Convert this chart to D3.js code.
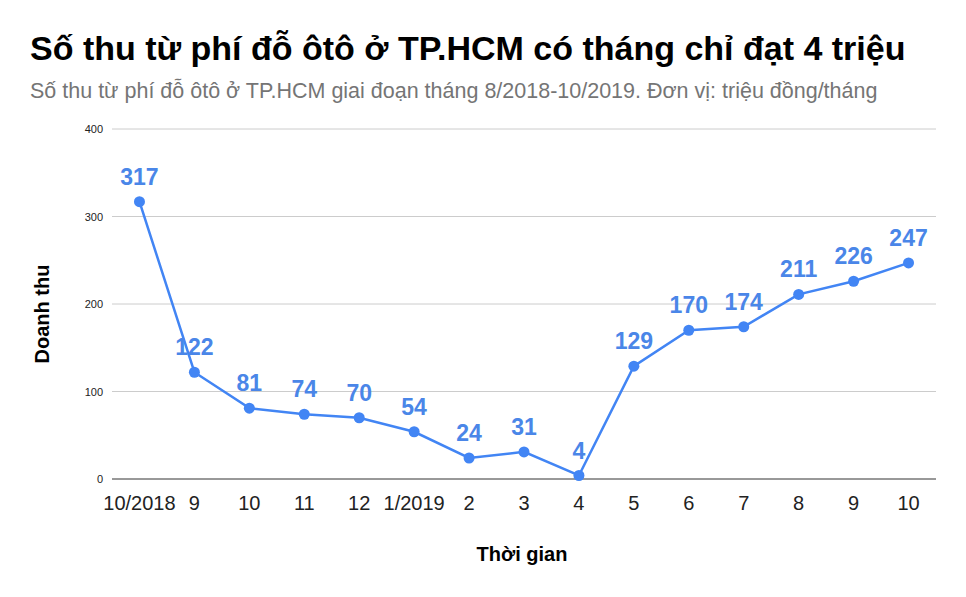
<!DOCTYPE html>
<html><head><meta charset="utf-8">
<script src="https://cdn.jsdelivr.net/npm/d3@7"></script>
<style>body{margin:0;background:#fff}text{font-family:"Liberation Sans",Arial,sans-serif}</style>
</head><body><svg id="c" width="966" height="597"></svg>
<script>
const categories = ["10/2018","9","10","11","12","1/2019","2","3","4","5","6","7","8","9","10"];
const values = [317,122,81,74,70,54,24,31,4,129,170,174,211,226,247];
const yTicks = [0,100,200,300,400];

const svg = d3.select("#c");
svg.append("rect").attr("width",966).attr("height",597).attr("fill","#fff");
const x = d3.scalePoint().domain(d3.range(categories.length)).range([112,936]).padding(0.5);
const y = d3.scaleLinear().domain([0,400]).range([479,129]);

svg.append("text").attr("x",30).attr("y",60).attr("font-size",34).attr("font-weight","bold").attr("fill","#000")
  .text("Số thu từ phí đỗ ôtô ở TP.HCM có tháng chỉ đạt 4 triệu");
svg.append("text").attr("x",30).attr("y",98).attr("font-size",21.5).attr("fill","#757575")
  .text("Số thu từ phí đỗ ôtô ở TP.HCM giai đoạn tháng 8/2018-10/2019. Đơn vị: triệu đồng/tháng");

svg.append("g").selectAll("line").data(yTicks).join("line")
  .attr("x1",112).attr("x2",936).attr("y1",d=>y(d)).attr("y2",d=>y(d))
  .attr("stroke",d=>d===0?"#333":"#ccc").attr("stroke-width",1);
svg.append("g").selectAll("text").data(yTicks).join("text")
  .attr("x",103).attr("y",d=>y(d)+4).attr("text-anchor","end").attr("font-size",11).attr("fill","#222").text(d=>d);
svg.append("g").selectAll("text").data(categories).join("text")
  .attr("x",(d,i)=>x(i)).attr("y",510).attr("text-anchor","middle").attr("font-size",20).attr("fill","#222").text(d=>d);

svg.append("text").attr("transform","translate(49,314) rotate(-90)").attr("text-anchor","middle")
  .attr("font-size",20).attr("font-weight","bold").text("Doanh thu");
svg.append("text").attr("x",522).attr("y",561).attr("text-anchor","middle")
  .attr("font-size",20).attr("font-weight","bold").text("Thời gian");

const line = d3.line().x((d,i)=>x(i)).y(d=>y(d));
svg.append("path").datum(values).attr("d",line).attr("fill","none").attr("stroke","#4285f4").attr("stroke-width",2.5);
svg.append("g").selectAll("circle").data(values).join("circle")
  .attr("cx",(d,i)=>x(i)).attr("cy",d=>y(d)).attr("r",5.5).attr("fill","#4285f4");
svg.append("g").selectAll("text").data(values).join("text")
  .attr("x",(d,i)=>x(i)).attr("y",d=>y(d)-17).attr("text-anchor","middle")
  .attr("font-size",23).attr("font-weight","bold").attr("fill","#4a86e8").text(d=>d);
</script></body></html>
